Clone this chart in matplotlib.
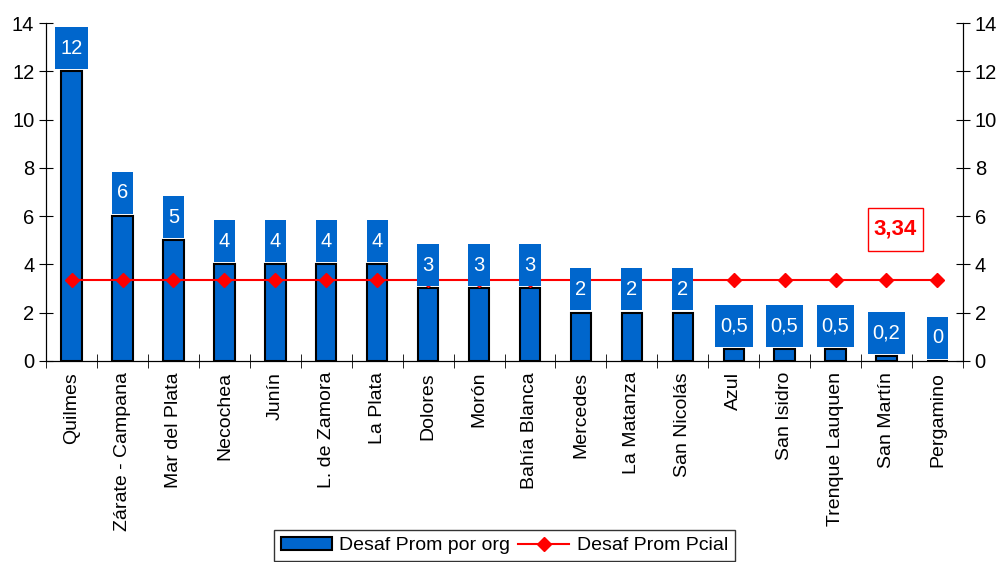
import matplotlib.pyplot as plt
from matplotlib.path import Path
import numpy as np

plt.rcParams['font.family'] = ['Liberation Sans', 'DejaVu Sans']

# dados
regiones = ['Quilmes', 'Zárate - Campana', 'Mar del Plata', 'Necochea', 'Junín',
            'L. de Zamora', 'La Plata', 'Dolores', 'Morón', 'Bahía Blanca',
            'Mercedes', 'La Matanza', 'San Nicolás', 'Azul', 'San Isidro',
            'Trenque Lauquen', 'San Martín', 'Pergamino']
desaf_org = [12, 6, 5, 4, 4, 4, 4, 3, 3, 3, 2, 2, 2, 0.5, 0.5, 0.5, 0.2, 0]
etiquetas = ['12', '6', '5', '4', '4', '4', '4', '3', '3', '3', '2', '2', '2',
             '0,5', '0,5', '0,5', '0,2', '0']
desaf_pcial = 3.34

azul = '#0066CC'


def caixa(padx, pady):
    # caixa retangular com padding diferente em x e y (em pixels)
    def estilo(x0, y0, width, height, mutation_size):
        x0, y0 = x0 - padx, y0 - pady
        x1, y1 = x0 + width + 2 * padx, y0 + height + 2 * pady
        return Path([(x0, y0), (x1, y0), (x1, y1), (x0, y1), (x0, y0)],
                    closed=True)
    return estilo


fig = plt.figure(figsize=(10.03, 5.62), dpi=100)
ax = fig.add_axes([0.046, 0.358, 0.914, 0.601])
x = np.arange(len(regiones))

bars = ax.bar(x, desaf_org, width=0.4, color=azul, edgecolor='black',
              linewidth=1.5, label='Desaf Prom por org', zorder=2)
ax.plot(x, [desaf_pcial] * len(x), color='red', linewidth=1.5, marker='D',
        markersize=7, label='Desaf Prom Pcial', zorder=3)

# etiquetas de valor (caixa azul logo acima da barra)
for bar, txt in zip(bars, etiquetas):
    h = bar.get_height()
    ax.annotate(txt, (bar.get_x() + bar.get_width() / 2, h),
                xytext=(0, 9.8), textcoords='offset points',
                ha='center', va='bottom', fontsize=14.5, color='white', zorder=4,
                bbox=dict(boxstyle=caixa(5, 11.5), fc=azul, ec='none'))

ax.text(16.17, 5.45, '3,34', color='red', fontsize=16, fontweight='bold',
        ha='center', va='center', zorder=5,
        bbox=dict(boxstyle=caixa(6, 11), fc='white', ec='red', lw=1))

ax.set_xlim(-0.5, len(regiones) - 0.5)
ax.set_ylim(0, 14)
ax.set_yticks(range(0, 15, 2))
ax.set_xticks(x)
ax.set_xticklabels(regiones, rotation=90, fontsize=14)
ax.set_xticks(np.arange(len(regiones) + 1) - 0.5, minor=True)
ax.tick_params(axis='x', which='major', length=0, pad=8)
ax.tick_params(axis='x', which='minor', direction='inout', length=10)
ax.tick_params(axis='y', direction='inout', length=10, labelsize=14.5)
ax.spines['top'].set_visible(False)

ax2 = ax.twinx()
ax2.set_ylim(0, 14)
ax2.set_yticks(range(0, 15, 2))
ax2.tick_params(axis='y', direction='inout', length=10, labelsize=14.5)
ax2.spines['top'].set_visible(False)

handles, labels = ax.get_legend_handles_labels()
leg = fig.legend(handles[::-1], labels[::-1], loc='upper center',
                 bbox_to_anchor=(0.503, 0.057), borderaxespad=0,
                 ncol=2, fontsize=14, frameon=True, fancybox=False,
                 edgecolor='black', borderpad=0.35, handlelength=2.6,
                 columnspacing=0.4, handletextpad=0.4)
leg.get_frame().set_linewidth(1)

fig.savefig('out.png', dpi=100)
